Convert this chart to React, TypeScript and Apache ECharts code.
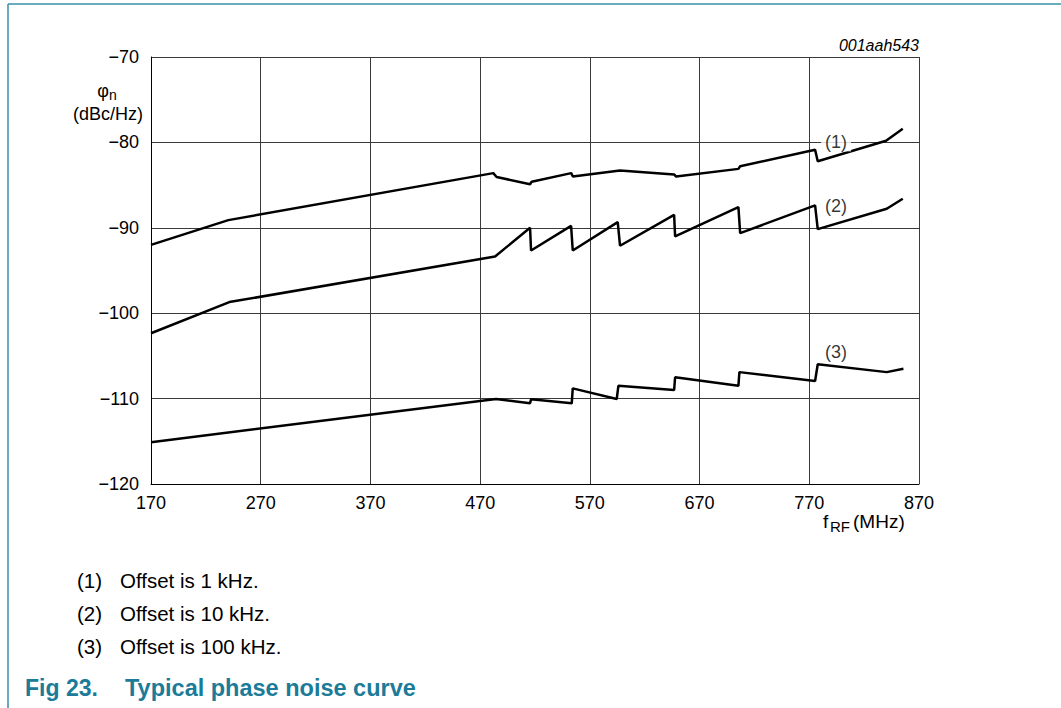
import React, { useEffect, useRef } from "react";
import * as echarts from "echarts";

// x axis origin (MHz) and tick labels
const F0 = 170;
const xTicks = [170, 270, 370, 470, 570, 670, 770, 870];
const yTicks = [-120, -110, -100, -90, -80, -70];

// Curve (1): offset 1 kHz
const c1F = [170, 240.5, 482, 485, 515.5, 517, 553, 554.5, 597.5, 646.8, 648.6, 705.4, 707, 775.3, 777.7, 840, 855.2];
const c1P = [-92.0, -89.1, -83.6, -84.05, -84.9, -84.6, -83.6, -84.0, -83.3, -83.75, -84.0, -83.1, -82.8, -80.85, -82.2, -79.8, -78.4];

// Curve (2): offset 10 kHz
const c2F = [170, 241.4, 483.6, 515.5, 516.4, 552.9, 554.4, 595.4, 597.5, 646.8, 647.7, 705.4, 707, 775.3, 777.7, 840.6, 855.2];
const c2P = [-102.35, -98.7, -93.36, -90.0, -92.66, -89.77, -92.66, -89.33, -92.1, -88.48, -91.0, -87.57, -90.62, -87.38, -90.15, -87.77, -86.6];

// Curve (3): offset 100 kHz
const c3F = [170, 484.5, 515.5, 516.4, 553.5, 554.4, 594.5, 596, 646.8, 647.7, 705.4, 706.3, 775.3, 777.7, 840.6, 855.8];
const c3P = [-115.1, -110.05, -110.55, -110.08, -110.55, -108.8, -110.05, -108.5, -109.0, -107.5, -108.5, -106.9, -107.94, -105.98, -106.9, -106.5];

// Curve labels
const labelNames = ["(1)", "(2)", "(3)"];
const labelF = [794.4, 794.4, 794.4];
const labelP = [-80, -87.5, -104.6];

const notes = [
  ["(1)", "Offset is 1 kHz."],
  ["(2)", "Offset is 10 kHz."],
  ["(3)", "Offset is 100 kHz."],
];

const FONT = "'Liberation Sans', Arial, Helvetica, sans-serif";
const TEAL = "#1b7b98";

function pairs(f: number[], p: number[]) {
  return f.map((v, i) => [v - F0, p[i]]);
}

export default function App() {
  const ref = useRef<HTMLDivElement>(null);
  useEffect(() => {
    if (!ref.current) return;
    const chart = echarts.init(ref.current, undefined, { renderer: "svg" });
    const minus = (v: number) => (v < 0 ? "\u2212" + Math.abs(v) : String(v));
    const lineSeries = (data: number[][]) => ({
      type: "line",
      data,
      symbol: "none",
      lineStyle: { color: "#000", width: 2.5 },
      z: 5,
    });
    const noteTexts: any[] = [];
    notes.forEach((n, i) => {
      noteTexts.push({
        type: "text",
        x: 77,
        y: 580.5 + i * 33,
        style: { text: n[0], font: `20.5px ${FONT}`, fill: "#000", textVerticalAlign: "middle" },
      });
      noteTexts.push({
        type: "text",
        x: 120,
        y: 580.5 + i * 33,
        style: { text: n[1], font: `20.5px ${FONT}`, fill: "#000", textVerticalAlign: "middle" },
      });
    });
    chart.setOption({
      animation: false,
      backgroundColor: "#fff",
      grid: { left: 151, right: 142, top: 57, bottom: 224, containLabel: false },
      xAxis: {
        type: "value",
        min: 0,
        max: xTicks[xTicks.length - 1] - F0,
        interval: 100,
        axisLine: { show: true, lineStyle: { color: "#000", width: 1 } },
        axisTick: { show: false },
        axisLabel: {
          color: "#000",
          fontFamily: FONT,
          fontSize: 18,
          margin: 10,
          formatter: (v: number) => String(v + F0),
        },
        splitLine: { show: true, lineStyle: { color: "#3a3a3a", width: 1 } },
      },
      yAxis: {
        type: "value",
        min: yTicks[0],
        max: yTicks[yTicks.length - 1],
        interval: 10,
        axisLine: { show: true, lineStyle: { color: "#000", width: 1 } },
        axisTick: { show: false },
        axisLabel: {
          color: "#000",
          fontFamily: FONT,
          fontSize: 18,
          margin: 12,
          formatter: minus,
        },
        splitLine: { show: true, lineStyle: { color: "#3a3a3a", width: 1 } },
      },
      series: [
        lineSeries(pairs(c1F, c1P)),
        lineSeries(pairs(c2F, c2P)),
        lineSeries(pairs(c3F, c3P)),
        {
          type: "scatter",
          symbolSize: 0,
          z: 6,
          data: labelNames.map((n, i) => ({ name: n, value: [labelF[i] - F0, labelP[i]] })),
          label: {
            show: true,
            position: "inside",
            formatter: (p: any) => p.name,
            color: "#000",
            fontFamily: FONT,
            fontSize: 18,
            backgroundColor: "#fff",
            padding: [0, 4],
          },
        },
      ],
      graphic: [
        { type: "line", shape: { x1: 8, y1: 4, x2: 1061, y2: 4 }, style: { stroke: "#3a8fab", lineWidth: 1.5 } },
        { type: "line", shape: { x1: 8, y1: 4, x2: 8, y2: 708 }, style: { stroke: "#3a8fab", lineWidth: 1.5 } },
        {
          type: "text",
          right: 142,
          top: 37,
          style: { text: "001aah543", font: `italic 16px ${FONT}`, fill: "#000" },
        },
        {
          type: "text",
          x: 103,
          y: 91,
          style: { text: "\u03c6", font: `18px ${FONT}`, fill: "#000", textAlign: "center", textVerticalAlign: "middle" },
        },
        {
          type: "text",
          x: 113,
          y: 95,
          style: { text: "n", font: `14px ${FONT}`, fill: "#000", textAlign: "center", textVerticalAlign: "middle" },
        },
        {
          type: "text",
          x: 108,
          y: 114,
          style: { text: "(dBc/Hz)", font: `18px ${FONT}`, fill: "#000", textAlign: "center", textVerticalAlign: "middle" },
        },
        {
          type: "text",
          x: 823,
          y: 521,
          style: { text: "f", font: `19px ${FONT}`, fill: "#000", textVerticalAlign: "middle" },
        },
        {
          type: "text",
          x: 830,
          y: 526,
          style: { text: "RF", font: `15px ${FONT}`, fill: "#000", textVerticalAlign: "middle" },
        },
        {
          type: "text",
          x: 853,
          y: 521,
          style: { text: "(MHz)", font: `19px ${FONT}`, fill: "#000", textVerticalAlign: "middle" },
        },
        ...noteTexts,
        {
          type: "text",
          x: 25,
          y: 688,
          style: { text: "Fig 23.", font: `bold 23px ${FONT}`, fill: TEAL, textVerticalAlign: "middle" },
        },
        {
          type: "text",
          x: 125,
          y: 688,
          style: { text: "Typical phase noise curve", font: `bold 23.5px ${FONT}`, fill: TEAL, textVerticalAlign: "middle" },
        },
      ],
    });
    return () => chart.dispose();
  }, []);
  return (
    <div
      ref={ref}
      style={{ position: "absolute", left: 0, top: 0, width: 1061, height: 708 }}
    />
  );
}
